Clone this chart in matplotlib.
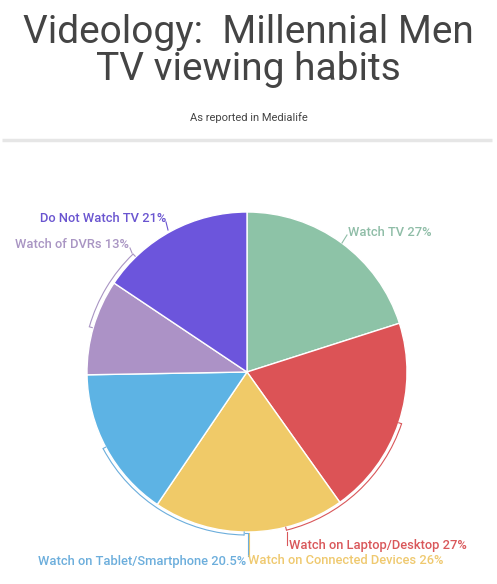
import numpy as np
import matplotlib
matplotlib.use("Agg")
import matplotlib.pyplot as plt
from matplotlib.patches import Arc

# ---- data ----
categories = ["Watch TV", "Watch on Laptop/Desktop", "Watch on Connected Devices",
              "Watch on Tablet/Smartphone", "Watch of DVRs", "Do Not Watch TV"]
values = [27, 27, 26, 20.5, 13, 21]
value_labels = ["27%", "27%", "26%", "20.5%", "13%", "21%"]
colors = ["#8DC3A7", "#DC5356", "#F0CA68", "#5DB3E4", "#AC92C6", "#6C55DC"]
label_colors = ["#8FBDA7", "#D9575A", "#EFC96F", "#6CAEDC", "#A995C3", "#6A55D0"]

title = "Videology:  Millennial Men\nTV viewing habits"
subtitle = "As reported in Medialife"

# ---- layout (pixel coordinates, y from top) ----
W, H = 497, 584
CX, CY, R = 247, 372, 160
# label anchors: (x, y, ha)
label_pos = [(348, 232, "left"), (289, 546, "left"), (248, 561, "left"),
             (246, 561, "right"), (129, 245, "right"), (166, 218, "right")]
# bracket arcs: (theta1, theta2, radius) or None
brackets = [None, (-76, -18.5, 163), None, (208, 269, 163), (134, 164, 164), None]
# leader polylines
leaders = [[(342, 243), (347, 235)],
           [(287, 532), (287, 545)],
           [(249, 533), (249, 555)],
           [(245, 533), (248, 533), (248, 556)],
           [(132, 253), (130, 248)],
           [(168, 230), (166, 222)]]

fig = plt.figure(figsize=(W / 100, H / 100), dpi=100)
ax = fig.add_axes([0, 0, 1, 1])

def Y(y):
    return H - y

ax.pie(values, colors=colors, startangle=90, counterclock=False,
       center=(CX, Y(CY)), radius=R,
       wedgeprops=dict(edgecolor="white", linewidth=1.0))
ax.set_xlim(0, W)
ax.set_ylim(0, H)
ax.set_aspect("equal")
ax.axis("off")

font = ["Roboto", "DejaVu Sans"]

# title and subtitle
fig.text(0.5, 1 - 51 / H, title, ha="center", va="center", fontsize=28,
         color="#444444", family=font, linespacing=0.98)
fig.text(0.5, 1 - 118 / H, subtitle, ha="center", va="center", fontsize=8,
         color="#444444", family=font)
ax.plot([2, 492], [Y(140), Y(140)], color="#E6E6E6", linewidth=2.5,
        solid_capstyle="butt")

for i, cat in enumerate(categories):
    c = label_colors[i]
    lx, ly, ha = label_pos[i]
    ax.text(lx, Y(ly), f"{cat} {value_labels[i]}", ha=ha, va="center",
            fontsize=9.25, color=c, family=font, fontweight="medium")
    pts = leaders[i]
    ax.plot([p[0] for p in pts], [Y(p[1]) for p in pts], color=c, lw=0.8)
    if brackets[i] is not None:
        t1, t2, rr = brackets[i]
        ax.add_patch(Arc((CX, Y(CY)), 2 * rr, 2 * rr, theta1=t1, theta2=t2,
                         color=c, lw=0.8))
        for t in (t1, t2):
            a = np.deg2rad(t)
            ax.plot([CX + rr * np.cos(a), CX + (rr - 3) * np.cos(a)],
                    [Y(CY) + rr * np.sin(a), Y(CY) + (rr - 3) * np.sin(a)],
                    color=c, lw=0.8)

fig.savefig("out.png", dpi=100, facecolor="white")
